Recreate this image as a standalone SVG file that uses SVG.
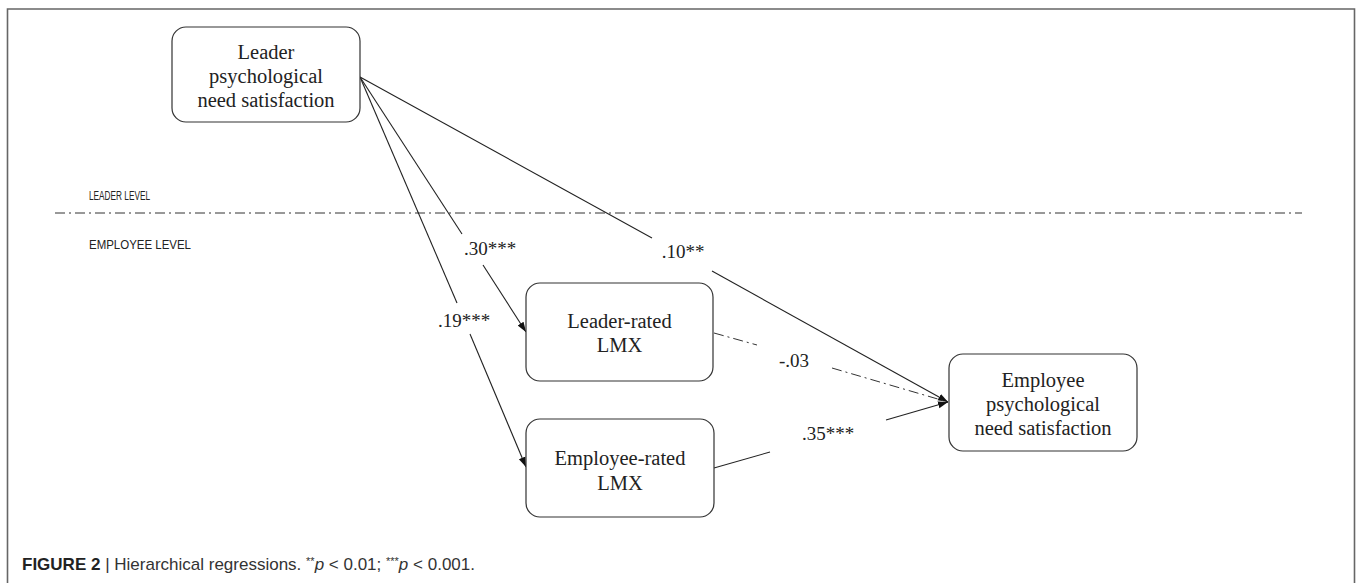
<svg xmlns="http://www.w3.org/2000/svg" width="1358" height="583" viewBox="0 0 1358 583">
<defs>
<style>
.box{fill:#fff;stroke:#333;stroke-width:1.2}
.nt{font-family:"Liberation Serif","Times New Roman",serif;font-size:20.5px;fill:#222;text-anchor:middle}
.lbl{font-family:"Liberation Serif","Times New Roman",serif;font-size:19px;fill:#222;text-anchor:middle}
.lvl{font-family:"Liberation Sans",Arial,sans-serif;font-size:12.5px;fill:#222}
.ln{stroke:#222;stroke-width:1.1;fill:none}
.dd{stroke:#333;stroke-width:1;fill:none;stroke-dasharray:10 4 2 4}
.cap{font-family:"Liberation Sans",Arial,sans-serif;font-size:17px;fill:#333}
</style>
<marker id="ah" viewBox="0 0 10 10" refX="10" refY="5" markerWidth="10" markerHeight="10" markerUnits="userSpaceOnUse" orient="auto">
<path d="M0,1.5 L10,5 L0,8.5 Z" fill="#111"/>
</marker>
</defs>
<rect x="0" y="0" width="1358" height="583" fill="#fff"/>
<path d="M7.5,600 V9 H1354.5 V600" fill="none" stroke="#666" stroke-width="1.6"/>

<g id="levels">
<text class="lvl" x="89" y="200" textLength="61" lengthAdjust="spacingAndGlyphs">LEADER LEVEL</text>
<line class="dd" x1="55" y1="213" x2="1302" y2="213" stroke-dasharray="6 3 2 3"/>
<text class="lvl" x="89" y="249" textLength="102" lengthAdjust="spacingAndGlyphs">EMPLOYEE LEVEL</text>
</g>

<g id="connectors">
<line class="ln" x1="360" y1="77" x2="457" y2="303"/>
<line class="ln" x1="470" y1="334" x2="526" y2="467" marker-end="url(#ah)"/>
<line class="ln" x1="360" y1="77" x2="462" y2="234"/>
<line class="ln" x1="483" y1="265" x2="526" y2="332" marker-end="url(#ah)"/>
<line class="ln" x1="360" y1="77" x2="652" y2="238"/>
<line class="ln" x1="712" y1="271" x2="948" y2="402" marker-end="url(#ah)"/>
<line class="dd" x1="714" y1="333" x2="757" y2="345"/>
<line class="dd" x1="832" y1="368" x2="948" y2="402"/>
<line class="ln" x1="714" y1="468" x2="770" y2="452"/>
<line class="ln" x1="886" y1="420" x2="948" y2="402" marker-end="url(#ah)"/>
<text class="lbl" x="490" y="255">.30***</text>
<text class="lbl" x="464" y="327">.19***</text>
<text class="lbl" x="683" y="258">.10**</text>
<text class="lbl" x="794" y="367">-.03</text>
<text class="lbl" x="828" y="440">.35***</text>
</g>

<g id="leader-pns">
<rect class="box" x="172" y="27" width="188" height="95" rx="14"/>
<text class="nt" x="266" y="59">Leader</text>
<text class="nt" x="266" y="83">psychological</text>
<text class="nt" x="266" y="107">need satisfaction</text>
</g>

<g id="leader-lmx">
<rect class="box" x="526" y="283" width="187" height="98" rx="14"/>
<text class="nt" x="619.5" y="328">Leader-rated</text>
<text class="nt" x="619.5" y="352">LMX</text>
</g>

<g id="employee-lmx">
<rect class="box" x="526" y="419" width="188" height="98" rx="14"/>
<text class="nt" x="620" y="465">Employee-rated</text>
<text class="nt" x="620" y="490">LMX</text>
</g>

<g id="employee-pns">
<rect class="box" x="949" y="354" width="188" height="97" rx="14"/>
<text class="nt" x="1043" y="387">Employee</text>
<text class="nt" x="1043" y="411">psychological</text>
<text class="nt" x="1043" y="435">need satisfaction</text>
</g>

<text class="cap" x="22" y="570"><tspan font-weight="bold" fill="#222">FIGURE 2</tspan> | Hierarchical regressions. <tspan font-size="11" dy="-5">**</tspan><tspan dy="5" font-style="italic">p</tspan> &lt; 0.01; <tspan font-size="11" dy="-5">***</tspan><tspan dy="5" font-style="italic">p</tspan> &lt; 0.001.</text>
</svg>
